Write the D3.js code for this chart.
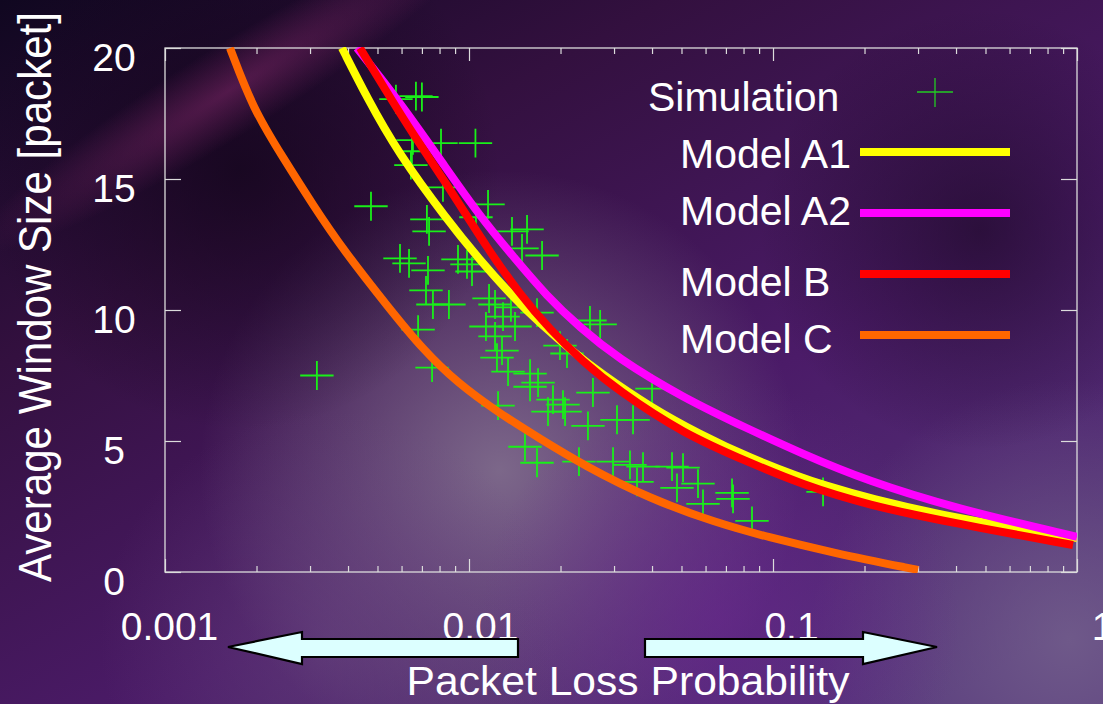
<!DOCTYPE html>
<meta charset="utf-8">
<head>
<style type='text/css'>
  body {
    margin: 0;
    background: #2a0f3a;
  }
  text {
    font-family: 'Liberation Sans', Arial, sans-serif;
    fill: #fff;
  }
  .axis .domain {
    display: none;
  }
  .axis line {
    stroke: #dcdcdc;
    stroke-width: 1.2;
  }
  .axis text {
    font-size: 39px;
    fill: #fff;
  }
  .frame {
    fill: none;
    stroke: #dcdcdc;
    stroke-width: 1.3;
  }
  .model {
    fill: none;
    stroke-width: 8;
    stroke-linejoin: round;
  }
  .sim line {
    stroke: #19f019;
    stroke-width: 1.8;
  }
  .arrow {
    fill: #dcffff;
    stroke: #000;
    stroke-width: 2.2;
  }
</style>
</head>
<body>
<svg id="chart" width="1103" height="704"></svg>
<script src="https://d3js.org/d3.v7.min.js"></script>
<script>
// ---- data ----
// simulation runs: packet loss probability and average window
var simLoss = [0.00575, 0.00669, 0.00700, 0.00654, 0.00809, 0.0105, 0.00649, 0.00644, 0.00821, 0.00476,
  0.01155, 0.01054, 0.00727, 0.00739, 0.01385, 0.01552, 0.01494, 0.01739, 0.00593, 0.00635,
  0.00733, 0.00920, 0.00985, 0.01023, 0.00722, 0.00761, 0.00859, 0.01164, 0.00680, 0.00756,
  0.00316, 0.01218, 0.01374, 0.01674, 0.0250, 0.0270, 0.01294, 0.01417, 0.01137, 0.01218,
  0.01284, 0.01236, 0.01992, 0.02101, 0.01344, 0.02557, 0.01246, 0.01588, 0.01687, 0.01588,
  0.01889, 0.02038, 0.0207, 0.01819, 0.02462, 0.03068, 0.03464, 0.0400, 0.01528, 0.01674,
  0.0230, 0.02977, 0.03385, 0.03736, 0.0357, 0.04654, 0.05058, 0.04833, 0.05666, 0.05885,
  0.07332, 0.07388, 0.08529, 0.1461];
var simWindow = [18.05, 18.16, 18.13, 16.48, 16.37, 16.37, 16.06, 15.53, 14.68, 13.96,
  14.03, 13.54, 13.46, 13.0, 13.0, 13.08, 12.35, 12.08, 11.97, 11.78,
  11.51, 11.93, 11.74, 11.47, 10.75, 10.21, 10.21, 10.44, 9.25, 7.80,
  7.50, 10.21, 10.10, 9.90, 9.60, 9.45, 9.75, 9.37, 9.37, 8.99,
  8.45, 8.18, 8.64, 8.34, 7.65, 6.85, 6.35, 7.57, 7.23, 7.07,
  6.58, 6.39, 6.12, 6.12, 5.58, 5.81, 5.81, 7.0, 4.78, 4.17,
  4.21, 4.21, 4.09, 4.02, 3.44, 4.02, 3.98, 3.21, 3.37, 2.60,
  3.02, 2.79, 1.95, 3.06];
// error bar half size (relative on loss, absolute on window)
var simLossErr = 0.135, simWindowErr = 0.55;

// model curves
var modelA1Loss   = [0.00382, 0.00462, 0.00584, 0.00846, 0.01087, 0.01395, 0.0171, 0.022, 0.027, 0.0394, 0.0575, 0.084, 0.1227, 0.146, 0.2037, 0.403, 1.0];
var modelA1Window = [20.0, 18.1, 16.0, 13.45, 11.9, 10.5, 9.5, 8.4, 7.6, 6.3, 5.25, 4.35, 3.62, 3.33, 2.83, 2.03, 1.3];
var modelA2Loss   = [0.00428, 0.00593, 0.00846, 0.01087, 0.01395, 0.01806, 0.02318, 0.03068, 0.05058, 0.084, 0.1227, 0.2037, 0.403, 1.0];
var modelA2Window = [20.0, 17.93, 15.37, 13.58, 12.05, 10.52, 9.33, 8.18, 6.65, 5.43, 4.55, 3.48, 2.41, 1.34];
var modelBLoss    = [0.00438, 0.00529, 0.00654, 0.00846, 0.01155, 0.01472, 0.01847, 0.02371, 0.03068, 0.05058, 0.084, 0.1227, 0.2037, 0.403, 0.97];
var modelBWindow  = [20.0, 18.43, 16.71, 14.8, 12.31, 10.59, 9.25, 8.03, 6.96, 5.28, 4.17, 3.37, 2.56, 1.84, 1.03];
var modelCLoss    = [0.001636, 0.00195, 0.00244, 0.00307, 0.00385, 0.0055, 0.00706, 0.00913, 0.01265, 0.01712, 0.0237, 0.0394, 0.0654, 0.0956, 0.1575, 0.30];
var modelCWindow  = [20.0, 17.67, 15.83, 14.0, 12.31, 10.02, 8.49, 7.23, 6.04, 5.09, 4.09, 2.79, 1.87, 1.34, 0.73, 0.08];

// tick values
var xMajorTicks = [0.001, 0.01, 0.1, 1];
var xTickLabels = ["0.001", "0.01", "0.1", "1"];
var yTicks = [0, 5, 10, 15, 20];

// ---- layout ----
var svg = d3.select("#chart"),
    width = +svg.attr("width"),
    height = +svg.attr("height"),
    margin = {top: 48, right: 26, bottom: 132, left: 165};

var x = d3.scaleLog()
    .domain([0.001, 1])
    .range([margin.left, width - margin.right]);

var y = d3.scaleLinear()
    .domain([0, 20])
    .range([height - margin.bottom, margin.top]);

// background: purple slide look
var defs = svg.append("defs");

function radial(id, cx, cy, r, color, op) {
  var g = defs.append("radialGradient")
      .attr("id", id)
      .attr("gradientUnits", "userSpaceOnUse")
      .attr("cx", cx).attr("cy", cy).attr("r", r);
  g.append("stop").attr("offset", 0).attr("stop-color", color).attr("stop-opacity", op);
  g.append("stop").attr("offset", 1).attr("stop-color", color).attr("stop-opacity", 0);
}

var base = defs.append("linearGradient")
    .attr("id", "bgBase")
    .attr("x1", 0).attr("y1", 0).attr("x2", 0.85).attr("y2", 1);
base.append("stop").attr("offset", 0).attr("stop-color", "#100720");
base.append("stop").attr("offset", 0.3).attr("stop-color", "#33103f");
base.append("stop").attr("offset", 0.65).attr("stop-color", "#4b1b68");
base.append("stop").attr("offset", 1).attr("stop-color", "#54357a");

radial("glowMid", 500, 470, 300, "#857590", 0.85);
radial("glowLow", 330, 640, 230, "#6a4a80", 0.5);
radial("glowRight", 1070, 640, 260, "#7a6890", 0.7);
radial("purpleLow", 720, 620, 240, "#6a2590", 0.6);
radial("darkPlot", 240, 170, 260, "#12051a", 0.75);
radial("darkRight", 980, 230, 220, "#180820", 0.6);

svg.append("rect")
    .attr("width", width).attr("height", height)
    .attr("fill", "url(#bgBase)");

["glowMid", "glowLow", "glowRight", "purpleLow", "darkPlot", "darkRight"].forEach(function(id) {
  svg.append("rect")
      .attr("width", width).attr("height", height)
      .attr("fill", "url(#" + id + ")");
});

// faint magenta streak across the top left
var streakG = defs.append("radialGradient").attr("id", "streak2");
streakG.append("stop").attr("offset", 0).attr("stop-color", "#8a2a70").attr("stop-opacity", 0.5);
streakG.append("stop").attr("offset", 1).attr("stop-color", "#8a2a70").attr("stop-opacity", 0);
svg.append("ellipse")
    .attr("transform", "translate(230,90) rotate(-32)")
    .attr("rx", 300).attr("ry", 45)
    .attr("fill", "url(#streak2)");

// clip for the curves
defs.append("clipPath").attr("id", "plotClip")
  .append("rect")
    .attr("x", margin.left).attr("y", margin.top - 1)
    .attr("width", width - margin.left - margin.right)
    .attr("height", height - margin.top - margin.bottom + 2);

// ---- axes ----
var xMinorTicks = [];
[0.001, 0.01, 0.1].forEach(function(d) {
  for (var k = 2; k <= 9; k++) xMinorTicks.push(d * k);
});

var bottomAxis = svg.append("g")
    .attr("class", "axis")
    .attr("transform", "translate(0," + y(0) + ")")
    .call(d3.axisBottom(x).tickValues(xMajorTicks).tickSize(-13).tickPadding(40)
      .tickFormat(function(d, i) { return xTickLabels[i]; }));
bottomAxis.selectAll("text")
    .attr("dx", function(d, i) { return 4 + i * 7; });

svg.append("g")
    .attr("class", "axis")
    .attr("transform", "translate(0," + y(0) + ")")
    .call(d3.axisBottom(x).tickValues(xMinorTicks).tickSize(-6).tickFormat(""));

svg.append("g")
    .attr("class", "axis")
    .attr("transform", "translate(0," + y(20) + ")")
    .call(d3.axisTop(x).tickValues(xMajorTicks).tickSize(-13).tickFormat(""));

svg.append("g")
    .attr("class", "axis")
    .attr("transform", "translate(0," + y(20) + ")")
    .call(d3.axisTop(x).tickValues(xMinorTicks).tickSize(-6).tickFormat(""));

var leftAxis = svg.append("g")
    .attr("class", "axis")
    .attr("transform", "translate(" + x(0.001) + ",0)")
    .call(d3.axisLeft(y).tickValues(yTicks).tickSize(-16));
leftAxis.selectAll("text")
    .attr("text-anchor", "middle")
    .attr("x", -51)
    .attr("dy", 22);

svg.append("g")
    .attr("class", "axis")
    .attr("transform", "translate(" + x(1) + ",0)")
    .call(d3.axisRight(y).tickValues(yTicks).tickSize(-16).tickFormat(""));

svg.append("rect")
    .attr("class", "frame")
    .attr("x", x(0.001)).attr("y", y(20))
    .attr("width", x(1) - x(0.001))
    .attr("height", y(0) - y(20));

// axis titles
svg.append("text")
    .attr("transform", "translate(51,297) rotate(-90)")
    .attr("text-anchor", "middle")
    .attr("font-size", 47)
    .attr("textLength", 570)
    .attr("lengthAdjust", "spacingAndGlyphs")
    .text("Average Window Size [packet]");

svg.append("text")
    .attr("x", 628)
    .attr("y", 695)
    .attr("text-anchor", "middle")
    .attr("font-size", 41)
    .attr("textLength", 443)
    .attr("lengthAdjust", "spacingAndGlyphs")
    .text("Packet Loss Probability");

// ---- simulation crosses ----
var sim = simLoss.map(function(d, i) { return {loss: d, win: simWindow[i]}; });

var simG = svg.append("g").attr("class", "sim");
var cross = simG.selectAll("g")
    .data(sim)
  .enter().append("g");

cross.append("line")
    .attr("x1", function(d) { return x(d.loss / (1 + simLossErr)); })
    .attr("x2", function(d) { return x(d.loss * (1 + simLossErr)); })
    .attr("y1", function(d) { return y(d.win); })
    .attr("y2", function(d) { return y(d.win); });

cross.append("line")
    .attr("x1", function(d) { return x(d.loss); })
    .attr("x2", function(d) { return x(d.loss); })
    .attr("y1", function(d) { return y(d.win - simWindowErr); })
    .attr("y2", function(d) { return y(d.win + simWindowErr); });

// ---- model curves ----
var models = [
  {name: "Model A1", color: "#ffff00", loss: modelA1Loss, win: modelA1Window},
  {name: "Model A2", color: "#ff00ff", loss: modelA2Loss, win: modelA2Window},
  {name: "Model B",  color: "#ff0000", loss: modelBLoss,  win: modelBWindow},
  {name: "Model C",  color: "#ff6600", loss: modelCLoss,  win: modelCWindow}
];

var line = d3.line()
    .x(function(d) { return x(d[0]); })
    .y(function(d) { return y(d[1]); })
    .curve(d3.curveBasis);

svg.append("g")
    .attr("clip-path", "url(#plotClip)")
  .selectAll("path")
    .data(models)
  .enter().append("path")
    .attr("class", "model")
    .attr("stroke", function(d) { return d.color; })
    .attr("d", function(d) { return line(d.loss.map(function(p, i) { return [p, d.win[i]]; })); });

// ---- legend ----
var legend = svg.append("g").attr("font-size", 41);

legend.append("text")
    .attr("x", 648).attr("y", 111)
    .text("Simulation");
legend.append("line")
    .attr("x1", 917).attr("x2", 953).attr("y1", 92).attr("y2", 92)
    .attr("stroke", "#22cc22").attr("stroke-width", 1.3);
legend.append("line")
    .attr("x1", 935).attr("x2", 935).attr("y1", 78).attr("y2", 107)
    .attr("stroke", "#22cc22").attr("stroke-width", 1.3);

var legRow = legend.selectAll(".row")
    .data(models)
  .enter().append("g")
    .attr("class", "row")
    .attr("transform", function(d, i) { return "translate(0," + (152 + i * 61) + ")"; });

legRow.append("text")
    .attr("x", 680)
    .attr("y", function(d, i) { return [16, 12, 22, 18][i]; })
    .text(function(d) { return d.name; });

legRow.append("line")
    .attr("x1", 860).attr("x2", 1010)
    .attr("stroke", function(d) { return d.color; })
    .attr("stroke-width", 8);

// ---- direction arrows under the axis ----
var arrows = [
  [[228, 647], [302, 632], [302, 639], [518, 639], [518, 657], [302, 657], [302, 664]],
  [[937, 647], [863, 632], [863, 639], [645, 639], [645, 657], [863, 657], [863, 664]]
];

svg.selectAll(".arrow")
    .data(arrows)
  .enter().append("path")
    .attr("class", "arrow")
    .attr("d", function(d) { return "M" + d.join("L") + "Z"; });
</script>
</body>
